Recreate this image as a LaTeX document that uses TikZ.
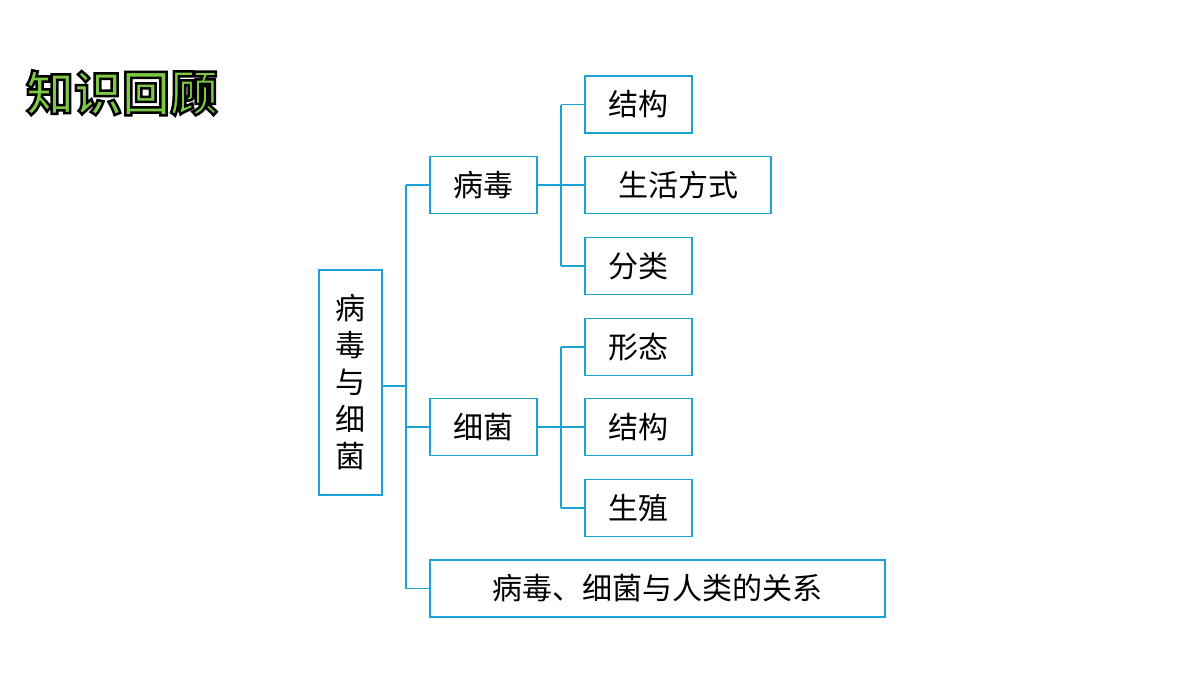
\documentclass[tikz,border=0pt]{standalone}
\usepackage{fontspec}
\newfontfamily\cjk{Noto Sans CJK SC}
\newfontfamily\cjkb{Noto Sans CJK SC Bold}
\definecolor{ln}{HTML}{1AA3D4}
\definecolor{gr}{HTML}{7CC943}
\begin{document}
\begin{tikzpicture}[x=1pt,y=-1pt,
 box/.style={draw=ln,line width=1.5pt,minimum height=57pt,inner sep=0pt,font=\cjk\fontsize{30}{36}\selectfont},
 con/.style={draw=ln,line width=1.5pt}]
\useasboundingbox (0,0) rectangle (1200,675);
\node[font=\cjkb\fontsize{48}{52}\selectfont,text=gr] (title) at (122,93) {\special{pdf:literal direct 2 Tr 2.5 w 0 0 0 RG}知识回顾\special{pdf:literal direct 0 Tr}};
\node[box,minimum width=63pt,minimum height=225pt,align=center,font=\cjk\fontsize{30}{37}\selectfont] (root) at (350.5,382.5) {病\\毒\\与\\细\\菌};
\node[box,minimum width=107pt] (bd) at (483.5,185) {病毒};
\node[box,minimum width=107pt] (xj) at (483.5,427) {细菌};
\node[box,minimum width=455pt] (gx) at (657.5,588.5) {病毒、细菌与人类的关系};
\node[box,minimum width=107pt] (a1) at (638.5,104.5) {结构};
\node[box,minimum width=186pt] (a2) at (678,185) {生活方式};
\node[box,minimum width=107pt] (a3) at (638.5,266) {分类};
\node[box,minimum width=107pt] (b1) at (638.5,347) {形态};
\node[box,minimum width=107pt] (b2) at (638.5,427) {结构};
\node[box,minimum width=107pt] (b3) at (638.5,508) {生殖};
\coordinate (j0) at (406,386);
\draw[con] (root.east |- j0) -- (j0);
\draw[con] (j0 |- bd) -- (j0 |- gx);
\draw[con] (j0 |- bd) -- (bd.west);
\draw[con] (j0 |- xj) -- (xj.west);
\draw[con] (j0 |- gx) -- (gx.west);
\coordinate (j1) at (561,185);
\draw[con] (bd.east) -- (j1);
\draw[con] (j1 |- a1) -- (j1 |- a3);
\foreach \n in {a1,a2,a3} \draw[con] (j1 |- \n) -- (\n.west);
\coordinate (j2) at (561,427);
\draw[con] (xj.east) -- (j2);
\draw[con] (j2 |- b1) -- (j2 |- b3);
\foreach \n in {b1,b2,b3} \draw[con] (j2 |- \n) -- (\n.west);
\end{tikzpicture}
\end{document}
